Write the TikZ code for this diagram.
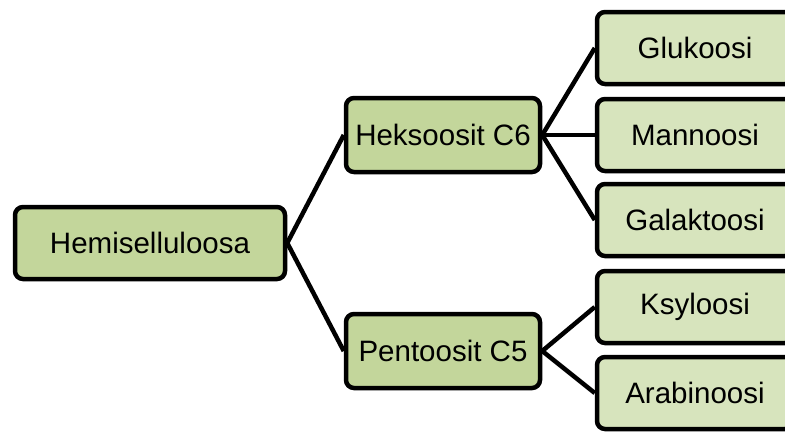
\documentclass[tikz,border=0pt]{standalone}
\usepackage{fontspec}
\setmainfont{Liberation Sans}
\definecolor{parentfill}{HTML}{C3D69B}
\definecolor{leaffill}{HTML}{D7E4BD}
\begin{document}
\begin{tikzpicture}[x=1pt,y=-1pt,
  box/.style={draw=black, line width=4.5pt, rounded corners=8pt, inner sep=0pt,
    font=\fontsize{29.5}{33}\selectfont, text=black},
  parent/.style={box, fill=parentfill, minimum width=270pt, minimum height=72pt},
  mid/.style={box, fill=parentfill, minimum width=194pt, minimum height=74pt},
  leaf/.style={box, fill=leaffill, minimum width=196pt, minimum height=72pt},
  link/.style={line width=4.5pt}]
\useasboundingbox (0,0) rectangle (785,432);
\begin{scope}
\clip (0,0) rectangle (785,432);
\node[parent] (hemi) at (150,243) {Hemiselluloosa};
\node[mid] (heks) at (443,135) {Heksoosit C6};
\node[mid] (pent) at (443,351) {Pentoosit C5};
\node[leaf] (glu) at (695,48) {Glukoosi};
\node[leaf] (man) at (695,135) {Mannoosi};
\node[leaf] (gal) at (695,220) {Galaktoosi};
\node[leaf] (ksy) at (695,307) {Ksyloosi};
\node[leaf] (ara) at (695,393) {Arabinoosi};
\draw[link] (hemi.east) -- (heks.west);
\draw[link] (hemi.east) -- (pent.west);
\draw[link] (heks.east) -- (glu.west);
\draw[link] (heks.east) -- (man.west);
\draw[link] (heks.east) -- (gal.west);
\draw[link] (pent.east) -- (ksy.west);
\draw[link] (pent.east) -- (ara.west);
\end{scope}
\end{tikzpicture}
\end{document}
